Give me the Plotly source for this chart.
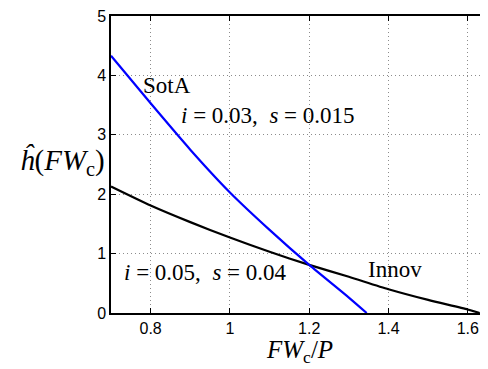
import plotly.graph_objects as go

# SotA curve (i = 0.03, s = 0.015)
sota_x = [0.70, 0.80, 0.90, 1.00, 1.10, 1.20, 1.30, 1.345]
sota_y = [4.33, 3.53, 2.75, 2.03, 1.40, 0.81, 0.26, 0.00]

# Innov curve (i = 0.05, s = 0.04)
innov_x = [0.70, 0.80, 0.90, 1.00, 1.10, 1.20, 1.30, 1.40, 1.50, 1.60, 1.63]
innov_y = [2.13, 1.81, 1.53, 1.27, 1.03, 0.81, 0.61, 0.40, 0.22, 0.06, 0.00]

x_ticks = [0.8, 1.0, 1.2, 1.4, 1.6]
x_ticklabels = ["0.8", "1", "1.2", "1.4", "1.6"]
y_ticks = [0, 1, 2, 3, 4, 5]

serif = "Liberation Serif, DejaVu Serif, serif"
sans = "Liberation Sans, Arial, sans-serif"

fig = go.Figure()
fig.add_trace(go.Scatter(x=innov_x, y=innov_y, mode="lines",
                         line=dict(color="black", width=2.2, shape="spline", smoothing=0.6),
                         showlegend=False))
fig.add_trace(go.Scatter(x=sota_x, y=sota_y, mode="lines",
                         line=dict(color="#0000ff", width=2.2, shape="spline", smoothing=0.6),
                         showlegend=False))

eq = "\u00a0=\u00a0"
ann = dict(showarrow=False, font=dict(family=serif, size=23, color="black"))
fig.add_annotation(x=0.842, y=3.83, text="SotA", **ann)
fig.add_annotation(x=1.095, y=3.33,
                   text=f"<i>i</i>{eq}0.03,\u00a0\u00a0<i>s</i>{eq}0.015", **ann)
fig.add_annotation(x=0.938, y=0.68,
                   text=f"<i>i</i>{eq}0.05,\u00a0\u00a0<i>s</i>{eq}0.04", **ann)
fig.add_annotation(x=1.416, y=0.74, text="Innov", **ann)

# axis titles as annotations
fig.add_annotation(xref="paper", yref="paper", x=0.5, y=-0.128, yanchor="middle",
                   text="<i>FW</i><sub>c</sub>/<i>P</i>", showarrow=False,
                   font=dict(family=serif, size=25, color="black"))
fig.add_annotation(xref="paper", yref="paper", x=-0.01, y=0.51, xanchor="right",
                   text="<i>ĥ</i>(<i>FW</i><sub>c</sub>)", showarrow=False,
                   font=dict(family=serif, size=29, color="black"))

grid = dict(showgrid=True, gridcolor="#8c8c8c", griddash="1px,3px", gridwidth=1)
fig.update_layout(
    width=480, height=361,
    margin=dict(l=103, r=0, t=5, b=56),
    paper_bgcolor="white", plot_bgcolor="white",
    xaxis=dict(range=[0.7, 1.651], tickvals=x_ticks, ticktext=x_ticklabels, **grid,
               showline=True, linecolor="black", linewidth=1.5, mirror="ticks",
               ticks="inside", ticklen=5, tickcolor="black", ticklabeloverflow="allow",
               tickfont=dict(family=sans, size=16, color="black"), zeroline=False),
    yaxis=dict(range=[0, 5], tickvals=y_ticks, **grid,
               showline=True, linecolor="black", linewidth=1.5,
               ticks="inside", ticklen=5, tickcolor="black", ticklabeloverflow="allow",
               tickfont=dict(family=sans, size=16, color="black"), zeroline=False),
)

fig.write_html("out.html")
